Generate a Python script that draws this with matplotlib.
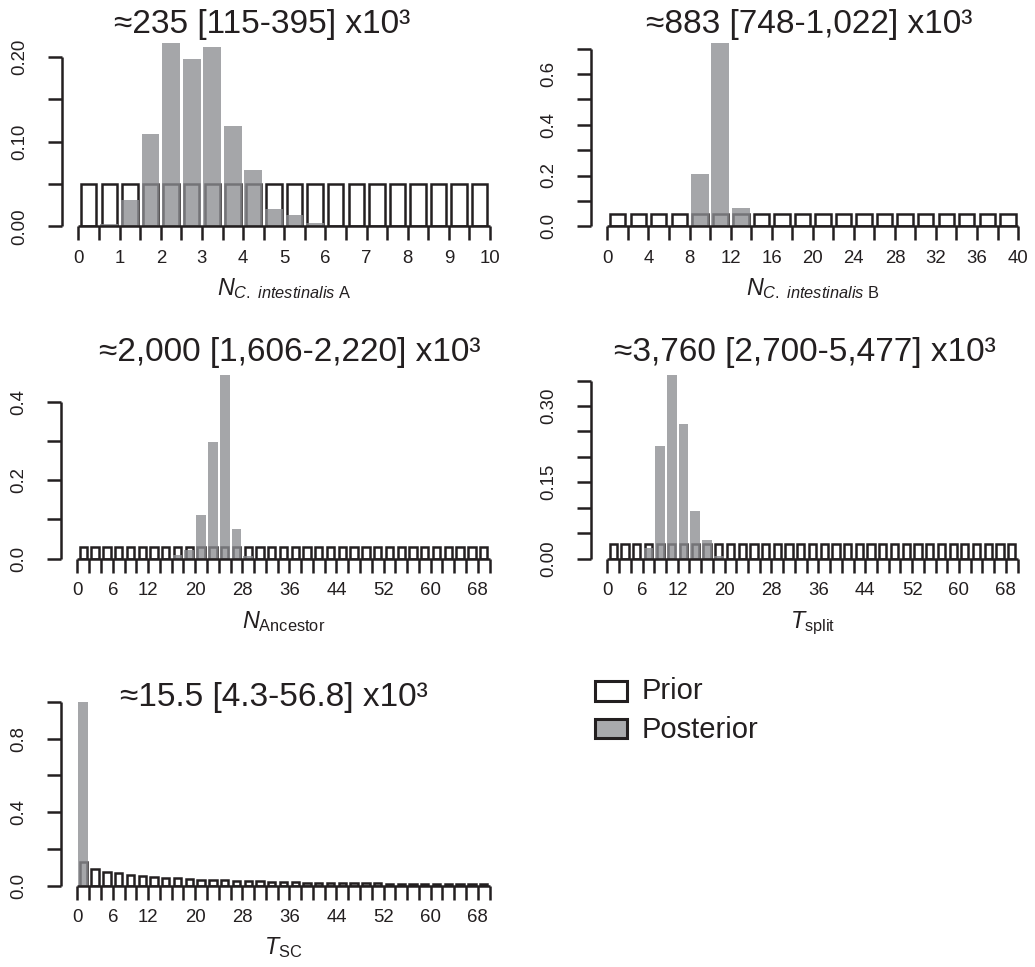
import matplotlib
matplotlib.use("Agg")
import matplotlib.pyplot as plt
from matplotlib.patches import Rectangle

# ---------------- data ----------------
titles = ["\u2248235 [115-395] x10\u00b3",
          "\u2248883 [748-1,022] x10\u00b3",
          "\u22482,000 [1,606-2,220] x10\u00b3",
          "\u22483,760 [2,700-5,477] x10\u00b3",
          "\u224815.5 [4.3-56.8] x10\u00b3"]
xlabels = [r"$N_{C.\ intestinalis\ \mathrm{A}}$",
           r"$N_{C.\ intestinalis\ \mathrm{B}}$",
           r"$N_{\mathrm{Ancestor}}$",
           r"$T_{\mathrm{split}}$",
           r"$T_{\mathrm{SC}}$"]

# bin widths and counts
bin_width = [0.5, 2, 2, 2, 2]
n_bins = [20, 20, 35, 35, 35]

prior_A = [0.05] * 20
post_A = [0.0, 0.0024, 0.031, 0.109, 0.217, 0.198, 0.212, 0.119, 0.067, 0.0205,
          0.0134, 0.0043, 0.0, 0.0, 0.0, 0.0, 0.0, 0.0, 0.0, 0.0]

prior_B = [0.05] * 20
post_B = [0.0, 0.0, 0.0, 0.0, 0.206, 0.723, 0.072, 0.0, 0.0, 0.0,
          0.0, 0.0, 0.0, 0.0, 0.0, 0.0, 0.0, 0.0, 0.0, 0.0]

prior_anc = [0.0286] * 35
post_anc = [0.0, 0.0, 0.0, 0.0, 0.0, 0.0, 0.0, 0.0, 0.009, 0.023,
            0.112, 0.297, 0.468, 0.076, 0.007, 0.0, 0.0, 0.0, 0.0, 0.0,
            0.0, 0.0, 0.0, 0.0, 0.0, 0.0, 0.0, 0.0, 0.0, 0.0,
            0.0, 0.0, 0.0, 0.0, 0.0]

prior_split = [0.0286] * 35
post_split = [0.0, 0.0, 0.0, 0.0216, 0.221, 0.361, 0.265, 0.094, 0.037, 0.005,
              0.0, 0.0, 0.0, 0.0, 0.0, 0.0, 0.0, 0.0, 0.0, 0.0,
              0.0, 0.0, 0.0, 0.0, 0.0, 0.0, 0.0, 0.0, 0.0, 0.0,
              0.0, 0.0, 0.0, 0.0, 0.0]

prior_sc = [0.130, 0.090, 0.074, 0.066, 0.059, 0.053, 0.046, 0.043, 0.039, 0.035,
            0.032, 0.030, 0.028, 0.025, 0.024, 0.022, 0.020, 0.019, 0.017, 0.016,
            0.015, 0.014, 0.013, 0.012, 0.011, 0.011, 0.010, 0.009, 0.009, 0.008,
            0.008, 0.007, 0.007, 0.006, 0.006]
post_sc = [1.0] + [0.0] * 34

priors = [prior_A, prior_B, prior_anc, prior_split, prior_sc]
posts = [post_A, post_B, post_anc, post_split, post_sc]

# axis ticks
xtick_step = [0.5, 2, 2, 2, 2]
xtick_labels_shown = [
    ["0", "1", "2", "3", "4", "5", "6", "7", "8", "9", "10"],
    ["0", "4", "8", "12", "16", "20", "24", "28", "32", "36", "40"],
    ["0", "6", "12", "20", "28", "36", "44", "52", "60", "68"],
    ["0", "6", "12", "20", "28", "36", "44", "52", "60", "68"],
    ["0", "6", "12", "20", "28", "36", "44", "52", "60", "68"],
]
yticks = [
    [0.0, 0.05, 0.10, 0.15, 0.20],
    [0.0, 0.1, 0.2, 0.3, 0.4, 0.5, 0.6, 0.7],
    [0.0, 0.1, 0.2, 0.3, 0.4],
    [0.0, 0.05, 0.10, 0.15, 0.20, 0.25, 0.30, 0.35],
    [0.0, 0.2, 0.4, 0.6, 0.8, 1.0],
]
ytick_labels = [
    ["0.00", "", "0.10", "", "0.20"],
    ["0.0", "", "0.2", "", "0.4", "", "0.6", ""],
    ["0.0", "", "0.2", "", "0.4"],
    ["0.00", "", "", "0.15", "", "", "0.30", ""],
    ["0.0", "", "0.4", "", "0.8", ""],
]
legend_labels = ["Prior", "Posterior"]

# ---------------- style ----------------
W, H = 1035, 967
plt.rcParams["font.family"] = ["Liberation Sans", "DejaVu Sans"]
plt.rcParams["mathtext.fontset"] = "custom"
plt.rcParams["mathtext.rm"] = "Liberation Sans"
plt.rcParams["mathtext.it"] = "Liberation Sans:italic"
plt.rcParams["mathtext.bf"] = "Liberation Sans:bold"

INK = "#231f20"
GREY = "#a9aaad"
POST_C = "#8c8d91"
LW = 1.8

fig = plt.figure(figsize=(W / 100, H / 100), dpi=100)

# axes rectangles in pixels: left, top, right, bottom
rects = [(62, 42.7, 506.5, 226.3),
         (591, 42.7, 1034.5, 226.3),
         (61, 375, 506, 558.7),
         (591, 375, 1034, 558.7),
         (61, 702, 506, 885.5)]
title_pos = [(262, 33.3), (809, 33.3), (290, 360.7), (805, 360.7), (274, 705.7)]
prior_frac = [0.75, 0.75, 0.62, 0.62, 0.62]
post_frac = [0.87, 0.87, 0.83, 0.83, 0.83]


def fx(px):
    return px / W


def fy(py):
    return 1 - py / H


for i in range(5):
    l, t, r, b = rects[i]
    ax = fig.add_axes([fx(l), fy(b), fx(r) - fx(l), (b - t) / H])
    bw = bin_width[i]
    nb = n_bins[i]
    xmax = bw * nb
    centers = [bw * (k + 0.5) for k in range(nb)]
    ax.bar(centers, priors[i], width=bw * prior_frac[i], color="white",
           edgecolor=INK, linewidth=LW, zorder=2)
    ax.bar(centers, posts[i], width=bw * post_frac[i], color=POST_C,
           alpha=0.78, linewidth=0, zorder=3)
    ax.set_xlim(-0.04 * xmax, 1.04 * xmax)
    ax.set_ylim(0, max(posts[i]))

    xt = [xtick_step[i] * k for k in range(nb + 1)]
    shown = set(xtick_labels_shown[i])
    xl = []
    for v in xt:
        s = ("%g" % v)
        xl.append(s if s in shown else "")
    ax.set_xticks(xt, xl)
    ax.set_yticks(yticks[i], ytick_labels[i])

    for s in ["top", "right"]:
        ax.spines[s].set_visible(False)
    for s in ["left", "bottom"]:
        ax.spines[s].set_linewidth(LW)
        ax.spines[s].set_color(INK)
        ax.spines[s].set_zorder(4)
        ax.spines[s].set_capstyle("butt")
    ax.spines["left"].set_bounds(0, yticks[i][-1])
    ax.spines["bottom"].set_bounds(0, xmax)

    ax.tick_params(axis="both", direction="out", length=10.3, width=LW,
                   color=INK, labelsize=13.4, labelcolor=INK)
    ax.tick_params(axis="x", pad=6.5)
    ax.tick_params(axis="y", pad=14)
    for lab in ax.get_yticklabels():
        lab.set_rotation(90)
        lab.set_va("center")

    tx, ty = title_pos[i]
    fig.text(fx(tx), fy(ty), titles[i], ha="center", va="baseline",
             fontsize=24, color=INK)
    fig.text(fx((l + r) / 2), fy(b + 69), xlabels[i], ha="center",
             va="baseline", fontsize=16.8, color=INK)

# legend (manual)
fig.add_artist(Rectangle((fx(594.5), fy(700.5)), (626.5 - 594.5) / W, 20 / H,
                         transform=fig.transFigure, facecolor="white",
                         edgecolor=INK, linewidth=2.2))
fig.add_artist(Rectangle((fx(594.5), fy(737.5)), (626.5 - 594.5) / W, 19 / H,
                         transform=fig.transFigure, facecolor=GREY,
                         edgecolor=INK, linewidth=2.2))
fig.text(fx(642), fy(699.3), legend_labels[0], ha="left", va="baseline",
         fontsize=21, color=INK)
fig.text(fx(642), fy(738.3), legend_labels[1], ha="left", va="baseline",
         fontsize=21, color=INK)

fig.savefig("out.png", dpi=100)
